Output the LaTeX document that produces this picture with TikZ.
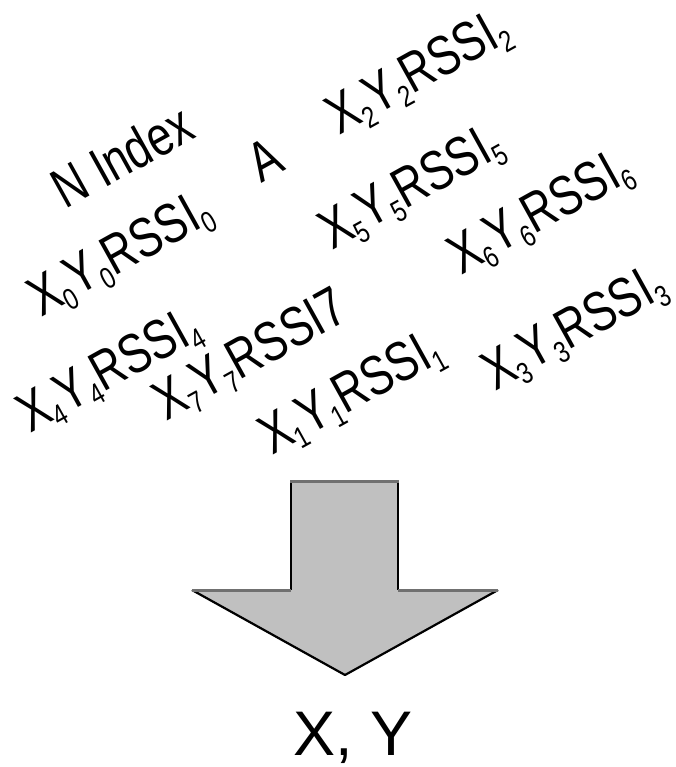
\documentclass[tikz,border=0pt]{standalone}
\usepackage{fontspec}
\setmainfont{Liberation Sans}
\newfontfamily\lblfont[FakeStretch=0.78]{Liberation Sans}
\newcommand\subd[1]{\raisebox{-0.16em}{\fontsize{30}{32}\selectfont #1}}
\definecolor{arrowfill}{HTML}{C0C0C0}
\definecolor{edgegray}{HTML}{707070}
\begin{document}
\begin{tikzpicture}[x=1pt,y=-1pt,
  lbl/.style={font=\lblfont\fontsize{56}{60}\selectfont, rotate=29, inner sep=0pt, text=black},
  result/.style={font=\fontsize{63}{70}\selectfont, inner sep=0pt, anchor=base}]
\useasboundingbox (0,0) rectangle (676,767);
\node[lbl] (nidx) at (122,156) {N Index};
\node[lbl] (a) at (265,160) {A};
\node[lbl] (l2) at (419,74) {X\subd{2}Y\subd{2}RSSI\subd{2}};
\node[lbl] (l0) at (121,256) {X\subd{0}Y\subd{0}RSSI\subd{0}};
\node[lbl] (l5) at (412,189) {X\subd{5}Y\subd{5}RSSI\subd{5}};
\node[lbl] (l6) at (541,214) {X\subd{6}Y\subd{6}RSSI\subd{6}};
\node[lbl] (l4) at (110,372) {X\subd{4}Y\subd{4}RSSI\subd{4}};
\node[lbl] (l7) at (251,357) {X\subd{7}Y\subd{7}RSSI7};
\node[lbl] (l1) at (352,394) {X\subd{1}Y\subd{1}RSSI\subd{1}};
\node[lbl] (l3) at (575,330) {X\subd{3}Y\subd{3}RSSI\subd{3}};
% arrow
\fill[arrowfill] (291,481) -- (398,481) -- (398,590) -- (498,590) -- (345,675) -- (192,590) -- (291,590) -- cycle;
\draw[black, line width=2.2pt, line join=round] (398,481) -- (398,590);
\draw[black, line width=2.2pt, line join=round] (291,481) -- (291,590);
\draw[black, line width=2.2pt, line join=round] (498,590) -- (345,675) -- (192,590);
\draw[edgegray, line width=3pt] (290,481) -- (399,481);
\draw[edgegray, line width=3pt] (192,590) -- (291,590);
\draw[edgegray, line width=3pt] (398,590) -- (498,590);
\node[result] (xy) at (353,755) {X, Y};
\end{tikzpicture}
\end{document}
